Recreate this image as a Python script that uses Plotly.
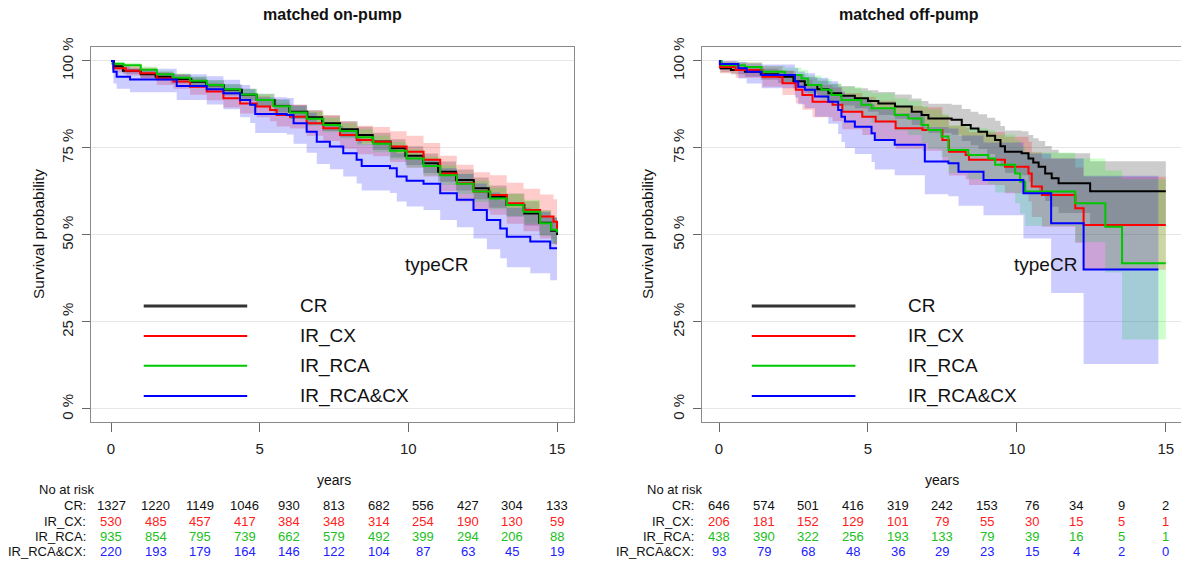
import plotly.graph_objects as go

FONT = "Liberation Sans, Arial, sans-serif"
GROUPS = ["CR", "IR_CX", "IR_RCA", "IR_RCA&CX"]
LINE_COLORS = {"CR": "#000000", "IR_CX": "#ff0000", "IR_RCA": "#00c800", "IR_RCA&CX": "#0000ff"}
BAND_COLORS = {"CR": "rgba(0,0,0,0.2)", "IR_CX": "rgba(255,0,0,0.2)",
               "IR_RCA": "rgba(0,255,0,0.2)", "IR_RCA&CX": "rgba(0,0,255,0.2)"}
TABLE_COLORS = {"CR": "#111111", "IR_CX": "#ff2020", "IR_RCA": "#20c020", "IR_RCA&CX": "#2020ff"}

# ---------------- matched on-pump ----------------
on_cr_t = [0, 0.1, 0.4, 1.0, 1.5, 2.0, 2.7, 3.2, 3.8, 4.4, 4.9, 5.5, 6.0, 6.6, 7.1, 7.7, 8.3, 8.8, 9.4, 9.9,
           10.5, 11.0, 11.6, 12.2, 12.7, 13.3, 13.9, 14.4, 14.8, 15.0]
on_cr_s = [1.0, 0.985, 0.972, 0.962, 0.955, 0.948, 0.940, 0.930, 0.917, 0.903, 0.888, 0.871, 0.854, 0.838, 0.821,
           0.804, 0.787, 0.769, 0.749, 0.728, 0.706, 0.682, 0.658, 0.634, 0.610, 0.586, 0.562, 0.535, 0.512, 0.500]
on_cr_lo = [1.0, 0.978, 0.963, 0.951, 0.943, 0.935, 0.926, 0.915, 0.901, 0.886, 0.870, 0.852, 0.834, 0.817, 0.799,
            0.781, 0.763, 0.744, 0.723, 0.701, 0.678, 0.653, 0.628, 0.603, 0.578, 0.553, 0.527, 0.499, 0.474, 0.460]
on_cr_hi = [1.0, 0.992, 0.981, 0.973, 0.967, 0.961, 0.954, 0.945, 0.933, 0.920, 0.906, 0.890, 0.874, 0.859, 0.843,
            0.827, 0.811, 0.794, 0.775, 0.755, 0.734, 0.711, 0.688, 0.665, 0.642, 0.619, 0.597, 0.571, 0.550, 0.540]

on_cx_t = [0, 0.08, 0.5, 0.98, 1.54, 2.1, 2.66, 3.22, 3.78, 4.34, 4.90, 5.35, 5.57, 6.02, 6.58, 7.14, 7.70, 8.26,
           8.82, 9.38, 9.94, 10.51, 11.07, 11.63, 12.19, 12.75, 13.31, 13.87, 14.43, 14.88, 15.0]
on_cx_s = [1.0, 0.979, 0.972, 0.965, 0.950, 0.941, 0.926, 0.912, 0.893, 0.878, 0.869, 0.859, 0.845, 0.840, 0.821,
           0.807, 0.787, 0.773, 0.768, 0.754, 0.739, 0.716, 0.677, 0.649, 0.625, 0.615, 0.591, 0.572, 0.553, 0.538,
           0.516]
on_cx_lo = [1.0, 0.967, 0.958, 0.949, 0.931, 0.920, 0.903, 0.887, 0.866, 0.849, 0.838, 0.827, 0.812, 0.806, 0.785,
            0.770, 0.748, 0.732, 0.726, 0.710, 0.693, 0.668, 0.626, 0.596, 0.570, 0.558, 0.532, 0.511, 0.490, 0.473,
            0.450]
on_cx_hi = [1.0, 0.991, 0.986, 0.981, 0.969, 0.962, 0.949, 0.937, 0.920, 0.907, 0.900, 0.891, 0.878, 0.874, 0.857,
            0.844, 0.826, 0.814, 0.810, 0.798, 0.785, 0.764, 0.728, 0.702, 0.680, 0.672, 0.650, 0.633, 0.616, 0.603,
            0.582]

on_rca_t = [0, 0.05, 0.42, 1.0, 1.54, 2.1, 2.66, 3.22, 3.78, 4.34, 4.90, 5.46, 6.02, 6.58, 7.14, 7.70, 8.26, 8.82,
            9.38, 9.94, 10.51, 11.07, 11.63, 12.19, 12.75, 13.31, 13.87, 14.43, 14.8, 15.0]
on_rca_s = [1.0, 0.992, 0.988, 0.975, 0.962, 0.952, 0.943, 0.931, 0.919, 0.904, 0.888, 0.870, 0.852, 0.834, 0.816,
            0.799, 0.781, 0.762, 0.742, 0.720, 0.698, 0.672, 0.647, 0.625, 0.605, 0.586, 0.567, 0.534, 0.515, 0.507]
on_rca_lo = [1.0, 0.986, 0.981, 0.966, 0.951, 0.940, 0.930, 0.917, 0.904, 0.888, 0.871, 0.852, 0.833, 0.814, 0.795,
             0.777, 0.758, 0.738, 0.717, 0.694, 0.671, 0.644, 0.618, 0.595, 0.574, 0.554, 0.533, 0.498, 0.477, 0.468]
on_rca_hi = [1.0, 0.998, 0.995, 0.984, 0.973, 0.964, 0.956, 0.945, 0.934, 0.920, 0.905, 0.888, 0.871, 0.854, 0.837,
             0.821, 0.804, 0.786, 0.767, 0.746, 0.725, 0.700, 0.676, 0.655, 0.636, 0.618, 0.601, 0.570, 0.553, 0.546]

on_rcacx_t = [0, 0.08, 0.19, 0.64, 2.21, 3.22, 3.78, 4.34, 4.68, 4.85, 5.91, 6.14, 6.58, 6.92, 7.36, 7.81, 8.26,
              8.43, 9.38, 9.61, 9.94, 10.51, 11.07, 11.63, 12.19, 12.64, 13.09, 13.31, 14.10, 14.77, 15.0]
on_rcacx_s = [1.0, 0.969, 0.955, 0.947, 0.928, 0.919, 0.907, 0.888, 0.874, 0.848, 0.845, 0.821, 0.797, 0.768,
              0.754, 0.735, 0.716, 0.698, 0.692, 0.668, 0.656, 0.647, 0.620, 0.601, 0.572, 0.543, 0.519, 0.495,
              0.481, 0.462, 0.462]
on_rcacx_lo = [1.0, 0.935, 0.920, 0.910, 0.888, 0.875, 0.861, 0.838, 0.822, 0.793, 0.789, 0.762, 0.736, 0.704,
               0.689, 0.668, 0.648, 0.628, 0.621, 0.596, 0.582, 0.572, 0.543, 0.522, 0.490, 0.459, 0.433, 0.407,
               0.390, 0.370, 0.370]
on_rcacx_hi = [1.0, 0.993, 0.985, 0.978, 0.962, 0.956, 0.946, 0.931, 0.919, 0.896, 0.894, 0.872, 0.851, 0.825,
               0.813, 0.796, 0.779, 0.762, 0.757, 0.735, 0.724, 0.717, 0.692, 0.675, 0.648, 0.622, 0.600, 0.578,
               0.566, 0.550, 0.550]

# ---------------- matched off-pump ----------------
off_cr_t = [0, 0.05, 0.4, 0.87, 1.4, 1.99, 2.5, 2.88, 3.3, 3.67, 4.1, 4.56, 5.0, 5.35, 5.91, 6.47, 6.8, 7.03, 7.81,
            8.15, 8.45, 8.71, 9.0, 9.27, 9.45, 9.60, 10.16, 10.39, 10.55, 10.73, 10.95, 11.17, 11.40, 12.46, 15.0]
off_cr_s = [1.0, 0.979, 0.974, 0.969, 0.962, 0.955, 0.942, 0.931, 0.919, 0.907, 0.900, 0.893, 0.885, 0.878, 0.869,
            0.854, 0.845, 0.835, 0.831, 0.816, 0.806, 0.797, 0.785, 0.773, 0.755, 0.739, 0.735, 0.720, 0.708, 0.696,
            0.677, 0.663, 0.649, 0.626, 0.626]
off_cr_lo = [1.0, 0.968, 0.962, 0.955, 0.946, 0.937, 0.922, 0.909, 0.895, 0.881, 0.872, 0.864, 0.854, 0.845, 0.834,
             0.816, 0.805, 0.793, 0.788, 0.770, 0.758, 0.747, 0.733, 0.718, 0.697, 0.678, 0.672, 0.653, 0.638, 0.622,
             0.598, 0.581, 0.563, 0.530, 0.530]
off_cr_hi = [1.0, 0.990, 0.986, 0.983, 0.978, 0.973, 0.962, 0.953, 0.943, 0.933, 0.928, 0.922, 0.916, 0.911, 0.904,
             0.892, 0.885, 0.877, 0.874, 0.862, 0.854, 0.847, 0.837, 0.828, 0.813, 0.800, 0.798, 0.787, 0.778, 0.770,
             0.756, 0.745, 0.735, 0.712, 0.712]

off_cx_t = [0, 0.03, 0.56, 1.46, 2.13, 2.58, 2.80, 3.14, 3.81, 4.14, 4.81, 5.26, 5.93, 6.83, 7.50, 7.72, 8.28, 8.39,
            9.60, 10.39, 10.50, 10.84, 11.96, 12.24, 15.0]
off_cx_s = [1.0, 0.983, 0.974, 0.955, 0.936, 0.917, 0.902, 0.883, 0.874, 0.854, 0.840, 0.826, 0.807, 0.802, 0.773,
            0.739, 0.730, 0.716, 0.696, 0.677, 0.639, 0.615, 0.577, 0.529, 0.529]
off_cx_lo = [1.0, 0.965, 0.952, 0.926, 0.902, 0.878, 0.860, 0.838, 0.827, 0.804, 0.787, 0.770, 0.748, 0.742, 0.709,
             0.671, 0.660, 0.644, 0.620, 0.596, 0.552, 0.524, 0.478, 0.400, 0.400]
off_cx_hi = [1.0, 0.999, 0.996, 0.985, 0.971, 0.958, 0.946, 0.931, 0.924, 0.908, 0.897, 0.886, 0.871, 0.867, 0.843,
             0.814, 0.808, 0.796, 0.782, 0.768, 0.738, 0.720, 0.694, 0.667, 0.667]

off_rca_t = [0, 0.09, 0.87, 1.43, 2.21, 2.77, 2.99, 3.44, 3.78, 4.11, 4.78, 5.12, 5.90, 6.35, 6.80, 7.02, 7.47, 7.70,
             8.37, 9.04, 9.27, 9.94, 10.11, 10.28, 11.96, 12.97, 13.53, 15.0]
off_rca_s = [1.0, 0.988, 0.983, 0.969, 0.960, 0.950, 0.931, 0.917, 0.902, 0.888, 0.874, 0.864, 0.845, 0.835, 0.816,
             0.802, 0.783, 0.744, 0.730, 0.720, 0.702, 0.677, 0.653, 0.625, 0.591, 0.524, 0.419, 0.419]
off_rca_lo = [1.0, 0.978, 0.970, 0.952, 0.940, 0.927, 0.905, 0.888, 0.870, 0.853, 0.836, 0.823, 0.800, 0.787, 0.764,
              0.747, 0.724, 0.679, 0.660, 0.645, 0.622, 0.591, 0.561, 0.526, 0.479, 0.392, 0.200, 0.200]
off_rca_hi = [1.0, 0.998, 0.996, 0.986, 0.981, 0.974, 0.958, 0.948, 0.936, 0.925, 0.914, 0.907, 0.893, 0.886, 0.871,
              0.861, 0.847, 0.815, 0.806, 0.801, 0.789, 0.772, 0.755, 0.737, 0.720, 0.685, 0.660, 0.660]

off_rcacx_t = [0, 0.03, 0.65, 0.93, 1.43, 2.55, 2.66, 2.88, 3.22, 3.67, 4.00, 4.11, 4.23, 4.56, 5.12, 5.23, 5.90,
               6.91, 7.70, 8.04, 8.88, 10.22, 11.15, 12.24, 14.75]
off_rcacx_s = [1.0, 0.991, 0.979, 0.969, 0.960, 0.941, 0.926, 0.917, 0.898, 0.883, 0.859, 0.840, 0.826, 0.811,
               0.792, 0.773, 0.759, 0.711, 0.706, 0.682, 0.658, 0.620, 0.534, 0.401, 0.401]
off_rcacx_lo = [1.0, 0.974, 0.950, 0.935, 0.922, 0.895, 0.876, 0.864, 0.840, 0.820, 0.790, 0.767, 0.750, 0.733,
                0.710, 0.688, 0.672, 0.617, 0.611, 0.584, 0.557, 0.490, 0.333, 0.129, 0.129]
off_rcacx_hi = [1.0, 1.0, 0.997, 0.993, 0.990, 0.980, 0.970, 0.965, 0.952, 0.942, 0.925, 0.912, 0.902, 0.891,
                0.876, 0.861, 0.850, 0.810, 0.806, 0.786, 0.766, 0.734, 0.720, 0.670, 0.670]

# ---------------- numbers at risk ----------------
risk_times = [0, 1.5, 3, 4.5, 6, 7.5, 9, 10.5, 12, 13.5, 15]
on_risk = {
    "CR": [1327, 1220, 1149, 1046, 930, 813, 682, 556, 427, 304, 133],
    "IR_CX": [530, 485, 457, 417, 384, 348, 314, 254, 190, 130, 59],
    "IR_RCA": [935, 854, 795, 739, 662, 579, 492, 399, 294, 206, 88],
    "IR_RCA&CX": [220, 193, 179, 164, 146, 122, 104, 87, 63, 45, 19],
}
off_risk = {
    "CR": [646, 574, 501, 416, 319, 242, 153, 76, 34, 9, 2],
    "IR_CX": [206, 181, 152, 129, 101, 79, 55, 30, 15, 5, 1],
    "IR_RCA": [438, 390, 322, 256, 193, 133, 79, 39, 16, 5, 1],
    "IR_RCA&CX": [93, 79, 68, 48, 36, 29, 23, 15, 4, 2, 0],
}

x_ticks = [0, 5, 10, 15]
y_ticks = [0, 0.25, 0.5, 0.75, 1.0]
y_ticklabels = ["0 %", "25 %", "50 %", "75 %", "100 %"]

panels = [
    dict(title="matched on-pump", xa="x", ya="y",
         curves={"CR": (on_cr_t, on_cr_s, on_cr_lo, on_cr_hi),
                 "IR_CX": (on_cx_t, on_cx_s, on_cx_lo, on_cx_hi),
                 "IR_RCA": (on_rca_t, on_rca_s, on_rca_lo, on_rca_hi),
                 "IR_RCA&CX": (on_rcacx_t, on_rcacx_s, on_rcacx_lo, on_rcacx_hi)},
         risk=on_risk),
    dict(title="matched off-pump", xa="x2", ya="y2",
         curves={"CR": (off_cr_t, off_cr_s, off_cr_lo, off_cr_hi),
                 "IR_CX": (off_cx_t, off_cx_s, off_cx_lo, off_cx_hi),
                 "IR_RCA": (off_rca_t, off_rca_s, off_rca_lo, off_rca_hi),
                 "IR_RCA&CX": (off_rcacx_t, off_rcacx_s, off_rcacx_lo, off_rcacx_hi)},
         risk=off_risk),
]

W, H = 1181, 562
fig = go.Figure()

for p in panels:
    for g in GROUPS:
        t, s, lo, hi = p["curves"][g]
        fig.add_trace(go.Scatter(x=t, y=lo, mode="lines", line=dict(width=0, shape="hv"),
                                 xaxis=p["xa"], yaxis=p["ya"], showlegend=False, hoverinfo="skip"))
        fig.add_trace(go.Scatter(x=t, y=hi, mode="lines", line=dict(width=0, shape="hv"),
                                 fill="tonexty", fillcolor=BAND_COLORS[g],
                                 xaxis=p["xa"], yaxis=p["ya"], showlegend=False, hoverinfo="skip"))
    for g in GROUPS:
        t, s, lo, hi = p["curves"][g]
        fig.add_trace(go.Scatter(x=t, y=s, mode="lines", name=g,
                                 line=dict(color=LINE_COLORS[g], width=2, shape="hv"),
                                 xaxis=p["xa"], yaxis=p["ya"], showlegend=False))

def px_x(v):
    return v / W

def px_y(v):
    return 1 - v / H

ydom = [px_y(422), px_y(47)]
axis_common = dict(showline=True, mirror=True, linecolor="#8a8a8a", linewidth=1.3, zeroline=False,
                   automargin=False, ticks="outside", tickcolor="#666666")
xtick_font = dict(family=FONT, size=15, color="#222222")
ytick_font = dict(family=FONT, size=15, color="#222222")

fig.update_layout(
    width=W, height=H, autosize=False,
    margin=dict(l=0, r=0, t=0, b=0, pad=0, autoexpand=False),
    paper_bgcolor="white", plot_bgcolor="white", showlegend=False,
    xaxis=dict(domain=[px_x(91), px_x(574)], range=[-0.673, 15.57], tickvals=x_ticks, showgrid=False,
               ticklen=9, ticklabelstandoff=4, anchor="y", tickfont=xtick_font, **axis_common),
    yaxis=dict(domain=ydom, range=[-0.0374, 1.0402], tickvals=y_ticks, ticktext=y_ticklabels,
               tickangle=-90, showgrid=True, gridcolor="#e6e6e6", gridwidth=1, ticklen=8,
               ticklabelstandoff=3, anchor="x", tickfont=ytick_font, **axis_common),
    xaxis2=dict(domain=[px_x(702), 1.0], range=[-0.571, 15.51], tickvals=x_ticks, showgrid=False,
                ticklen=9, ticklabelstandoff=4, anchor="y2", tickfont=xtick_font, **axis_common),
    yaxis2=dict(domain=ydom, range=[-0.0374, 1.0402], tickvals=y_ticks, ticktext=y_ticklabels,
                tickangle=-90, showgrid=True, gridcolor="#e6e6e6", gridwidth=1, ticklen=8,
                ticklabelstandoff=3, anchor="x2", tickfont=ytick_font, **axis_common),
)

ann = []
shapes = []
title_x = [332, 909]
ytitle_x = [38, 647]
label_right = [88, 696]
noatrisk_x = [37, 645]
legend_y = [0.296, 0.210, 0.124, 0.037]

def txt(**kw):
    d = dict(showarrow=False, xanchor="center", yanchor="middle")
    d.update(kw)
    return d

for i, p in enumerate(panels):
    ann.append(txt(text="<b>%s</b>" % p["title"], x=px_x(title_x[i]), y=px_y(15), xref="paper", yref="paper",
                   font=dict(family=FONT, size=16, color="#111111")))
    ann.append(txt(text="Survival probability", x=px_x(ytitle_x[i]), y=px_y(234), xref="paper", yref="paper",
                   textangle=-90, font=dict(family=FONT, size=15.5, color="#111111")))
    ann.append(txt(text="typeCR", x=10.95, y=0.414, xref=p["xa"], yref=p["ya"],
                   font=dict(family=FONT, size=19, color="#111111")))
    for k, g in enumerate(GROUPS):
        shapes.append(dict(type="line", xref=p["xa"], yref=p["ya"], x0=1.1, x1=4.58,
                           y0=legend_y[k], y1=legend_y[k],
                           line=dict(color="#333333" if g == "CR" else LINE_COLORS[g],
                                     width=3 if g == "CR" else 2)))
        ann.append(txt(text=g, x=6.29, y=legend_y[k], xref=p["xa"], yref=p["ya"], xanchor="left",
                       font=dict(family=FONT, size=19, color="#111111")))
    # years + risk table
    ann.append(txt(text="years", x=7.5, y=px_y(480), xref=p["xa"], yref="paper",
                   font=dict(family=FONT, size=14, color="#111111")))
    ann.append(txt(text="No at risk", x=px_x(noatrisk_x[i]), y=px_y(489), xref="paper", yref="paper",
                   xanchor="left", font=dict(family=FONT, size=13, color="#111111")))
    row_y = [505, 521, 536, 551]
    for k, g in enumerate(GROUPS):
        ann.append(txt(text=g + ":", x=px_x(label_right[i]), y=px_y(row_y[k]), xref="paper", yref="paper",
                       xanchor="right", font=dict(family=FONT, size=13, color="#111111")))
        for tt, n in zip(risk_times, p["risk"][g]):
            ann.append(txt(text=str(n), x=tt, y=px_y(row_y[k]), xref=p["xa"], yref="paper",
                           font=dict(family=FONT, size=13, color=TABLE_COLORS[g])))

fig.update_layout(annotations=ann, shapes=shapes)
fig.write_html("out.html", config={"displayModeBar": False},
               post_script="document.body.style.margin='0';document.body.style.overflow='hidden';")
